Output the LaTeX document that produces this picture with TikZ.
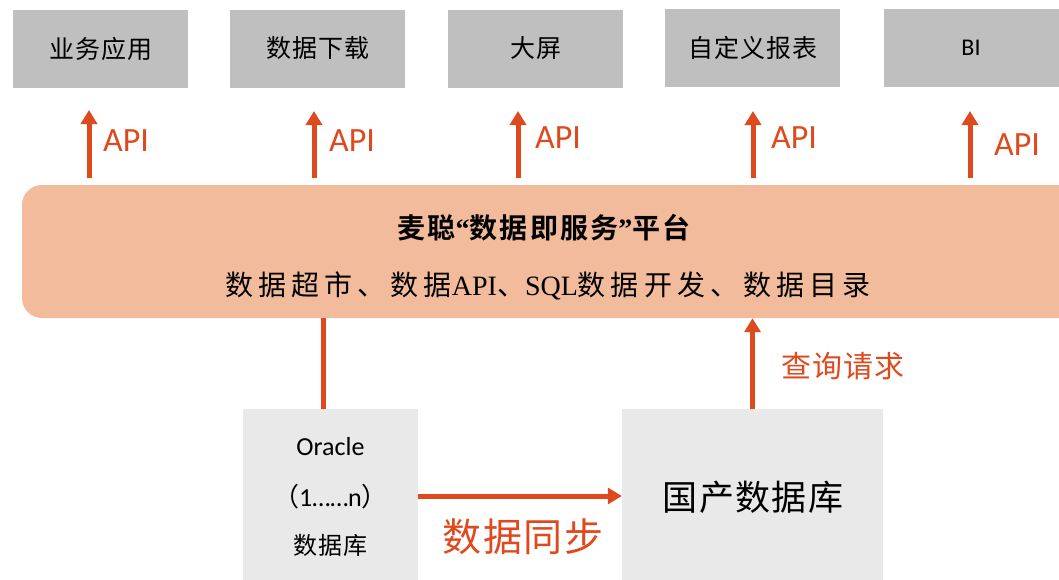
\documentclass[tikz,border=0pt]{standalone}
\usepackage{fontspec}
\setmainfont{Liberation Serif}
\newfontfamily\cjk{Noto Sans CJK SC}
\newfontfamily\cjksp{Noto Sans CJK SC}[LetterSpace=18]
\newfontfamily\cjktop{Noto Sans CJK SC}[LetterSpace=4]
\newfontfamily\cjkbold{Noto Sans CJK SC Bold}[LetterSpace=8]
\newfontfamily\carl{Carlito}
\usetikzlibrary{arrows.meta}
\definecolor{redA}{HTML}{DE4A1E}
\definecolor{grayTop}{HTML}{BFBFBF}
\definecolor{grayLow}{HTML}{E9E9E9}
\definecolor{peach}{HTML}{F1BB9C}
\tikzset{
  topbox/.style={fill=grayTop, draw=none, minimum width=175pt, minimum height=78pt, inner sep=0pt, font=\cjktop\fontsize{25}{28}\selectfont},
  lowbox/.style={fill=grayLow, draw=none, inner sep=0pt},
  arr/.style={draw=redA, line width=5pt, -{Triangle[width=16pt,length=14pt]}},
  conn/.style={draw=redA, line width=5pt},
  apilabel/.style={text=redA, font=\carl\fontsize{34}{38}\selectfont, anchor=west, inner sep=0pt},
  redlabel/.style={text=redA, inner sep=0pt},
  plain/.style={inner sep=0pt}
}
\begin{document}
\begin{tikzpicture}[x=1pt,y=-1pt]
\useasboundingbox (0,0) rectangle (1059,579);
\clip (0,0) rectangle (1059,579);
% top boxes
\node[topbox] (t1) at (100.5,49) {业务应用};
\node[topbox] (t2) at (317.5,48.5) {数据下载};
\node[topbox] (t3) at (535.5,48.5) {大屏};
\node[topbox] (t4) at (752.5,47.5) {自定义报表};
\node[topbox, font=\carl\fontsize{24}{28}\selectfont] (t5) at (971,47.5) {BI};
% platform
\node[fill=peach, draw=none, rounded corners=20pt, minimum width=1070pt, minimum height=133pt, inner sep=0pt] (plat) at (557,251.5) {};
\node[plain, font=\cjkbold\fontsize{28}{32}\selectfont] (title) at (544,228) {麦聪{\rmfamily\bfseries “}数据即服务{\rmfamily\bfseries ”}平台};
\node[plain, font=\fontsize{28}{32}\selectfont] (sub) at (548,286) {{\cjksp 数据超市、}{\cjksp 数据}API{\cjksp 、}SQL{\cjksp 数据开发、数据目录}};
% API arrows
\coordinate (s1) at (89,178); \coordinate (e1) at (89,110);
\coordinate (s2) at (314,178); \coordinate (e2) at (314,111);
\coordinate (s3) at (518,178); \coordinate (e3) at (518,111);
\coordinate (s4) at (753,178); \coordinate (e4) at (753,111);
\coordinate (s5) at (970,178); \coordinate (e5) at (970,111);
\draw[arr] (s1) -- (e1);
\draw[arr] (s2) -- (e2);
\draw[arr] (s3) -- (e3);
\draw[arr] (s4) -- (e4);
\draw[arr] (s5) -- (e5);
\node[apilabel] (l1) at (103,141) {API};
\node[apilabel] (l2) at (329,141) {API};
\node[apilabel] (l3) at (535,138) {API};
\node[apilabel] (l4) at (771,138) {API};
\node[apilabel] (l5) at (994,145) {API};
% lower boxes
\node[lowbox, minimum width=175pt, minimum height=172pt] (ora) at (330.5,495) {};
\node[plain, font=\carl\fontsize{26}{30}\selectfont] (oratxt) at (330.5,447) {Oracle};
\node[plain, font=\carl\fontsize{26}{30}\selectfont] (oran) at (330.5,497) {{\cjk （}1……n{\cjk ）}};
\node[plain, font=\cjktop\fontsize{24}{28}\selectfont] (oradb) at (330.5,545) {数据库};
\node[lowbox, minimum width=261pt, minimum height=172pt] (gc) at (752.5,495) {};
\node[plain, font=\cjktop\fontsize{35}{40}\selectfont] (gctxt) at (753,497) {国产数据库};
% connectors
\draw[conn] ([xshift=-7.5pt]ora.north) -- ([xshift=-7.5pt]ora.north |- plat.south);
\draw[arr] (gc.north) -- (gc.north |- plat.south);
\draw[arr] (ora.east |- 0,496) -- (gc.west |- 0,496);
\node[redlabel, font=\cjktop\fontsize{30}{34}\selectfont] (q) at (843,366) {查询请求};
\node[redlabel, font=\cjktop\fontsize{39}{44}\selectfont] (sync) at (523,537) {数据同步};
\end{tikzpicture}
\end{document}
